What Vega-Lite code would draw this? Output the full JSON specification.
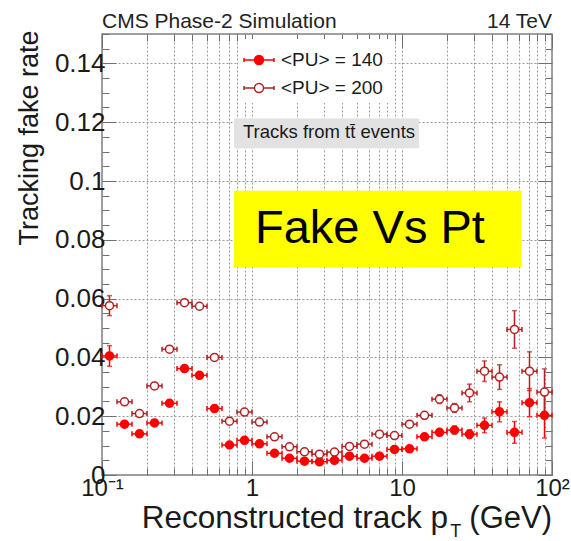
{
  "$schema": "https://vega.github.io/schema/vega-lite/v6.json",
  "width": 450,
  "height": 441,
  "autosize": "none",
  "padding": {"left": 102, "top": 34, "right": 19, "bottom": 66},
  "background": "white",
  "config": {
    "font": "Liberation Sans",
    "view": {"stroke": "#808080", "strokeWidth": 1.5},
    "axis": {
      "domain": false,
      "grid": true,
      "gridColor": "#9a9a9a",
      "gridDash": [2, 2],
      "gridWidth": 1,
      "tickColor": "#707070",
      "tickWidth": 1,
      "labelFont": "Liberation Sans",
      "labelFontSize": 25,
      "labelColor": "#1a1a1a",
      "titleFont": "Liberation Sans",
      "titleFontWeight": "normal",
      "titleColor": "#1a1a1a",
      "labelOverlap": false,
      "labelFlush": false
    }
  },
  "datasets": {
    "fake": [
      {"series": "<PU> = 140", "pt": 0.1122, "lo": 0.1, "hi": 0.1259, "rate": 0.0405, "err": 0.0035},
      {"series": "<PU> = 140", "pt": 0.1413, "lo": 0.1259, "hi": 0.1585, "rate": 0.0173, "err": 0.0006},
      {"series": "<PU> = 140", "pt": 0.1778, "lo": 0.1585, "hi": 0.1995, "rate": 0.014, "err": 0.0006},
      {"series": "<PU> = 140", "pt": 0.2239, "lo": 0.1995, "hi": 0.2512, "rate": 0.0177, "err": 0.0006},
      {"series": "<PU> = 140", "pt": 0.2818, "lo": 0.2512, "hi": 0.3162, "rate": 0.0244, "err": 0.0006},
      {"series": "<PU> = 140", "pt": 0.3548, "lo": 0.3162, "hi": 0.3981, "rate": 0.0362, "err": 0.0006},
      {"series": "<PU> = 140", "pt": 0.4467, "lo": 0.3981, "hi": 0.5012, "rate": 0.0339, "err": 0.0006},
      {"series": "<PU> = 140", "pt": 0.5623, "lo": 0.5012, "hi": 0.631, "rate": 0.0226, "err": 0.0006},
      {"series": "<PU> = 140", "pt": 0.7079, "lo": 0.631, "hi": 0.7943, "rate": 0.0102, "err": 0.0006},
      {"series": "<PU> = 140", "pt": 0.8913, "lo": 0.7943, "hi": 1, "rate": 0.0118, "err": 0.0006},
      {"series": "<PU> = 140", "pt": 1.122, "lo": 1, "hi": 1.259, "rate": 0.0106, "err": 0.0005},
      {"series": "<PU> = 140", "pt": 1.413, "lo": 1.259, "hi": 1.585, "rate": 0.0074, "err": 0.0004},
      {"series": "<PU> = 140", "pt": 1.778, "lo": 1.585, "hi": 1.995, "rate": 0.0057, "err": 0.0004},
      {"series": "<PU> = 140", "pt": 2.239, "lo": 1.995, "hi": 2.512, "rate": 0.0047, "err": 0.0004},
      {"series": "<PU> = 140", "pt": 2.818, "lo": 2.512, "hi": 3.162, "rate": 0.0045, "err": 0.0004},
      {"series": "<PU> = 140", "pt": 3.548, "lo": 3.162, "hi": 3.981, "rate": 0.005, "err": 0.0004},
      {"series": "<PU> = 140", "pt": 4.467, "lo": 3.981, "hi": 5.012, "rate": 0.0064, "err": 0.0004},
      {"series": "<PU> = 140", "pt": 5.623, "lo": 5.012, "hi": 6.31, "rate": 0.0057, "err": 0.0004},
      {"series": "<PU> = 140", "pt": 7.079, "lo": 6.31, "hi": 7.943, "rate": 0.0064, "err": 0.0004},
      {"series": "<PU> = 140", "pt": 8.913, "lo": 7.943, "hi": 10, "rate": 0.0087, "err": 0.0005},
      {"series": "<PU> = 140", "pt": 11.22, "lo": 10, "hi": 12.59, "rate": 0.0089, "err": 0.0006},
      {"series": "<PU> = 140", "pt": 14.13, "lo": 12.59, "hi": 15.85, "rate": 0.013, "err": 0.0008},
      {"series": "<PU> = 140", "pt": 17.78, "lo": 15.85, "hi": 19.95, "rate": 0.0145, "err": 0.001},
      {"series": "<PU> = 140", "pt": 22.39, "lo": 19.95, "hi": 25.12, "rate": 0.0153, "err": 0.0013},
      {"series": "<PU> = 140", "pt": 28.18, "lo": 25.12, "hi": 31.62, "rate": 0.0139, "err": 0.0015},
      {"series": "<PU> = 140", "pt": 35.48, "lo": 31.62, "hi": 39.81, "rate": 0.0169, "err": 0.0025},
      {"series": "<PU> = 140", "pt": 44.67, "lo": 39.81, "hi": 50.12, "rate": 0.0215, "err": 0.0034},
      {"series": "<PU> = 140", "pt": 56.23, "lo": 50.12, "hi": 63.1, "rate": 0.0145, "err": 0.0037},
      {"series": "<PU> = 140", "pt": 70.79, "lo": 63.1, "hi": 79.43, "rate": 0.0246, "err": 0.0048},
      {"series": "<PU> = 140", "pt": 89.13, "lo": 79.43, "hi": 100, "rate": 0.0203, "err": 0.0077},
      {"series": "<PU> = 200", "pt": 0.1122, "lo": 0.1, "hi": 0.1259, "rate": 0.0576, "err": 0.0034},
      {"series": "<PU> = 200", "pt": 0.1413, "lo": 0.1259, "hi": 0.1585, "rate": 0.0249, "err": 0.0006},
      {"series": "<PU> = 200", "pt": 0.1778, "lo": 0.1585, "hi": 0.1995, "rate": 0.0209, "err": 0.0006},
      {"series": "<PU> = 200", "pt": 0.2239, "lo": 0.1995, "hi": 0.2512, "rate": 0.0303, "err": 0.0006},
      {"series": "<PU> = 200", "pt": 0.2818, "lo": 0.2512, "hi": 0.3162, "rate": 0.0428, "err": 0.0006},
      {"series": "<PU> = 200", "pt": 0.3548, "lo": 0.3162, "hi": 0.3981, "rate": 0.0586, "err": 0.0006},
      {"series": "<PU> = 200", "pt": 0.4467, "lo": 0.3981, "hi": 0.5012, "rate": 0.0574, "err": 0.0006},
      {"series": "<PU> = 200", "pt": 0.5623, "lo": 0.5012, "hi": 0.631, "rate": 0.04, "err": 0.0006},
      {"series": "<PU> = 200", "pt": 0.7079, "lo": 0.631, "hi": 0.7943, "rate": 0.0183, "err": 0.0006},
      {"series": "<PU> = 200", "pt": 0.8913, "lo": 0.7943, "hi": 1, "rate": 0.0214, "err": 0.0006},
      {"series": "<PU> = 200", "pt": 1.122, "lo": 1, "hi": 1.259, "rate": 0.018, "err": 0.0005},
      {"series": "<PU> = 200", "pt": 1.413, "lo": 1.259, "hi": 1.585, "rate": 0.013, "err": 0.0005},
      {"series": "<PU> = 200", "pt": 1.778, "lo": 1.585, "hi": 1.995, "rate": 0.0096, "err": 0.0005},
      {"series": "<PU> = 200", "pt": 2.239, "lo": 1.995, "hi": 2.512, "rate": 0.0079, "err": 0.0005},
      {"series": "<PU> = 200", "pt": 2.818, "lo": 2.512, "hi": 3.162, "rate": 0.0071, "err": 0.0005},
      {"series": "<PU> = 200", "pt": 3.548, "lo": 3.162, "hi": 3.981, "rate": 0.0078, "err": 0.0005},
      {"series": "<PU> = 200", "pt": 4.467, "lo": 3.981, "hi": 5.012, "rate": 0.0097, "err": 0.0005},
      {"series": "<PU> = 200", "pt": 5.623, "lo": 5.012, "hi": 6.31, "rate": 0.0105, "err": 0.0005},
      {"series": "<PU> = 200", "pt": 7.079, "lo": 6.31, "hi": 7.943, "rate": 0.0139, "err": 0.0005},
      {"series": "<PU> = 200", "pt": 8.913, "lo": 7.943, "hi": 10, "rate": 0.0134, "err": 0.0006},
      {"series": "<PU> = 200", "pt": 11.22, "lo": 10, "hi": 12.59, "rate": 0.0173, "err": 0.0008},
      {"series": "<PU> = 200", "pt": 14.13, "lo": 12.59, "hi": 15.85, "rate": 0.0203, "err": 0.0012},
      {"series": "<PU> = 200", "pt": 17.78, "lo": 15.85, "hi": 19.95, "rate": 0.0258, "err": 0.0015},
      {"series": "<PU> = 200", "pt": 22.39, "lo": 19.95, "hi": 25.12, "rate": 0.0228, "err": 0.0015},
      {"series": "<PU> = 200", "pt": 28.18, "lo": 25.12, "hi": 31.62, "rate": 0.0279, "err": 0.003},
      {"series": "<PU> = 200", "pt": 35.48, "lo": 31.62, "hi": 39.81, "rate": 0.0353, "err": 0.0035},
      {"series": "<PU> = 200", "pt": 44.67, "lo": 39.81, "hi": 50.12, "rate": 0.0333, "err": 0.0042},
      {"series": "<PU> = 200", "pt": 56.23, "lo": 50.12, "hi": 63.1, "rate": 0.0495, "err": 0.0064},
      {"series": "<PU> = 200", "pt": 70.79, "lo": 63.1, "hi": 79.43, "rate": 0.0353, "err": 0.0066},
      {"series": "<PU> = 200", "pt": 89.13, "lo": 79.43, "hi": 100, "rate": 0.0282, "err": 0.0079}
    ]
  },
  "data": {"name": "fake"},
  "resolve": {"axis": {"x": "independent", "y": "independent"}},
  "layer": [
    {
      "mark": {"type": "rule", "strokeWidth": 1.5},
      "encoding": {
        "x": {
          "field": "lo",
          "type": "quantitative",
          "scale": {"type": "log", "domain": [0.1, 100], "nice": false},
          "axis": {
            "orient": "bottom",
            "title": null,
            "values": [0.1, 0.2, 0.3, 0.4, 0.5, 0.6, 0.7, 0.8, 0.9, 1, 2, 3, 4, 5, 6, 7, 8, 9, 10, 20, 30, 40, 50, 60, 70, 80, 90, 100],
            "labelExpr": "datum.value == 0.1 ? '10⁻¹' : datum.value == 1 ? '1' : datum.value == 10 ? '10' : datum.value == 100 ? '10²' : ''",
            "labelFontSize": 24,
            "tickSize": {"condition": {"test": "datum.value == 0.1 || datum.value == 1 || datum.value == 10 || datum.value == 100", "value": -14}, "value": -7},
            "labelPadding": 15
          }
        },
        "x2": {"field": "hi"},
        "y": {
          "field": "rate",
          "type": "quantitative",
          "scale": {"domain": [0, 0.15], "nice": false, "zero": false},
          "axis": {
            "orient": "left",
            "title": "Tracking fake rate",
            "titleFontSize": 27,
            "titleAlign": "right",
            "titleAngle": -90,
            "titleBaseline": "middle",
            "titleX": -73,
            "titleY": -4,
            "values": [0, 0.005, 0.01, 0.015, 0.02, 0.025, 0.03, 0.035, 0.04, 0.045, 0.05, 0.055, 0.06, 0.065, 0.07, 0.075, 0.08, 0.085, 0.09, 0.095, 0.1, 0.105, 0.11, 0.115, 0.12, 0.125, 0.13, 0.135, 0.14, 0.145, 0.15],
            "labelExpr": "round(datum.value * 1000) % 20 == 0 ? format(datum.value, '~g') : ''",
            "labelFontSize": 26,
            "tickSize": {"condition": {"test": "round(datum.value * 1000) % 20 == 0", "value": -14}, "value": -7},
            "gridOpacity": {"condition": {"test": "round(datum.value * 1000) % 20 == 0", "value": 1}, "value": 0},
            "labelPadding": 11
          }
        },
        "color": {
          "field": "series",
          "type": "nominal",
          "scale": {"range": ["#ff0000", "#b22222"]},
          "legend": null
        }
      }
    },
    {
      "mark": {"type": "tick", "orient": "vertical", "size": 5, "thickness": 1.5, "opacity": 1},
      "encoding": {
        "x": {
          "field": "lo",
          "type": "quantitative",
          "axis": {
            "orient": "top",
            "title": null,
            "grid": false,
            "labels": false,
            "values": [0.1, 0.2, 0.3, 0.4, 0.5, 0.6, 0.7, 0.8, 0.9, 1, 2, 3, 4, 5, 6, 7, 8, 9, 10, 20, 30, 40, 50, 60, 70, 80, 90, 100],
            "tickSize": {"condition": {"test": "datum.value == 0.1 || datum.value == 1 || datum.value == 10 || datum.value == 100", "value": -14}, "value": -7}
          }
        },
        "y": {
          "field": "rate",
          "type": "quantitative",
          "axis": {
            "orient": "right",
            "title": null,
            "grid": false,
            "labels": false,
            "values": [0, 0.005, 0.01, 0.015, 0.02, 0.025, 0.03, 0.035, 0.04, 0.045, 0.05, 0.055, 0.06, 0.065, 0.07, 0.075, 0.08, 0.085, 0.09, 0.095, 0.1, 0.105, 0.11, 0.115, 0.12, 0.125, 0.13, 0.135, 0.14, 0.145, 0.15],
            "tickSize": {"condition": {"test": "round(datum.value * 1000) % 20 == 0", "value": -14}, "value": -7}
          }
        },
        "color": {"field": "series", "type": "nominal", "legend": null}
      }
    },
    {
      "mark": {"type": "tick", "orient": "vertical", "size": 5, "thickness": 1.5, "opacity": 1},
      "encoding": {
        "x": {"field": "hi", "type": "quantitative", "axis": null},
        "y": {"field": "rate", "type": "quantitative", "axis": null},
        "color": {"field": "series", "type": "nominal", "legend": null}
      }
    },
    {
      "mark": {"type": "errorbar", "ticks": {"size": 5, "thickness": 1.5}, "rule": {"strokeWidth": 1.5}},
      "encoding": {
        "x": {"field": "pt", "type": "quantitative", "axis": null},
        "y": {"field": "rate", "type": "quantitative", "axis": null},
        "yError": {"field": "err"},
        "color": {"field": "series", "type": "nominal", "legend": null}
      }
    },
    {
      "mark": {"type": "point", "shape": "circle", "filled": true, "size": 64, "strokeWidth": 1.5, "opacity": 1},
      "encoding": {
        "x": {"field": "pt", "type": "quantitative", "axis": null},
        "y": {"field": "rate", "type": "quantitative", "axis": null},
        "stroke": {
          "field": "series",
          "type": "nominal",
          "scale": {"domain": ["<PU> = 140", "<PU> = 200"], "range": ["#ff0000", "#b22222"]},
          "legend": {
            "title": null,
            "orient": "none",
            "legendX": 136,
            "legendY": 5,
            "symbolType": "M-1,-0.13V0.13M-1,0H-0.3M0.3,0H1M1,-0.13V0.13M-0.3,0A0.3,0.3 0 1,0 0.3,0A0.3,0.3 0 1,0 -0.3,0Z",
            "symbolSize": 900,
            "symbolStrokeWidth": 1.5,
            "labelFont": "Liberation Sans",
            "labelFontSize": 19,
            "labelColor": "#1a1a1a",
            "labelOffset": 6,
            "fillColor": "#ffffff",
            "padding": 5,
            "rowPadding": 2
          }
        },
        "fill": {
          "field": "series",
          "type": "nominal",
          "scale": {"domain": ["<PU> = 140", "<PU> = 200"], "range": ["#ff0000", "#ffffff"]},
          "legend": {
            "title": null,
            "orient": "none",
            "legendX": 136,
            "legendY": 5,
            "symbolType": "M-1,-0.13V0.13M-1,0H-0.3M0.3,0H1M1,-0.13V0.13M-0.3,0A0.3,0.3 0 1,0 0.3,0A0.3,0.3 0 1,0 -0.3,0Z",
            "symbolSize": 900,
            "symbolStrokeWidth": 1.5,
            "labelFont": "Liberation Sans",
            "labelFontSize": 19,
            "labelColor": "#1a1a1a",
            "labelOffset": 6,
            "fillColor": "#ffffff",
            "padding": 5,
            "rowPadding": 2
          }
        }
      }
    },
    {
      "data": {"values": [{}]},
      "mark": {"type": "rect", "fill": "#e2e2e2"},
      "encoding": {
        "x": {"datum": 0.759, "type": "quantitative", "axis": null},
        "x2": {"datum": 12.98},
        "y": {"datum": 0.1213, "type": "quantitative", "axis": null},
        "y2": {"datum": 0.1111}
      }
    },
    {
      "data": {"values": [{}]},
      "mark": {"type": "text", "text": "Tracks from tt̄ events", "align": "left", "baseline": "middle", "fontSize": 18.5, "color": "#1a1a1a"},
      "encoding": {
        "x": {"datum": 0.871, "type": "quantitative", "axis": null},
        "y": {"datum": 0.1165, "type": "quantitative", "axis": null}
      }
    },
    {
      "data": {"values": [{}]},
      "mark": {"type": "rect", "fill": "#ffff00"},
      "encoding": {
        "x": {"datum": 0.759, "type": "quantitative", "axis": null},
        "x2": {"datum": 62.8},
        "y": {"datum": 0.0967, "type": "quantitative", "axis": null},
        "y2": {"datum": 0.0706}
      }
    },
    {
      "data": {"values": [{}]},
      "mark": {"type": "text", "text": "Fake Vs Pt", "align": "left", "baseline": "middle", "fontSize": 47, "color": "#000000"},
      "encoding": {
        "x": {"datum": 1.047, "type": "quantitative", "axis": null},
        "y": {"datum": 0.0837, "type": "quantitative", "axis": null}
      }
    },
    {
      "data": {"values": [{}]},
      "mark": {"type": "text", "text": "Reconstructed track p", "align": "right", "baseline": "alphabetic", "fontSize": 31.5, "color": "#1a1a1a"},
      "encoding": {
        "x": {"datum": 20.3, "type": "quantitative", "axis": null},
        "y": {"datum": -0.018, "type": "quantitative", "axis": null}
      }
    },
    {
      "data": {"values": [{}]},
      "mark": {"type": "text", "text": "T", "align": "left", "baseline": "alphabetic", "fontSize": 18, "color": "#1a1a1a"},
      "encoding": {
        "x": {"datum": 21.0, "type": "quantitative", "axis": null},
        "y": {"datum": -0.0211, "type": "quantitative", "axis": null}
      }
    },
    {
      "data": {"values": [{}]},
      "mark": {"type": "text", "text": "(GeV)", "align": "right", "baseline": "alphabetic", "fontSize": 31, "color": "#1a1a1a"},
      "encoding": {
        "x": {"datum": 100, "type": "quantitative", "axis": null},
        "y": {"datum": -0.018, "type": "quantitative", "axis": null}
      }
    },
    {
      "data": {"values": [{}]},
      "mark": {"type": "text", "text": "CMS Phase-2 Simulation", "align": "left", "baseline": "alphabetic", "fontSize": 21, "color": "#222222"},
      "encoding": {
        "x": {"datum": 0.1, "type": "quantitative", "axis": null},
        "y": {"datum": 0.152, "type": "quantitative", "axis": null}
      }
    },
    {
      "data": {"values": [{}]},
      "mark": {"type": "text", "text": "14 TeV", "align": "right", "baseline": "alphabetic", "fontSize": 21, "color": "#222222"},
      "encoding": {
        "x": {"datum": 100, "type": "quantitative", "axis": null},
        "y": {"datum": 0.152, "type": "quantitative", "axis": null}
      }
    }
  ]
}
